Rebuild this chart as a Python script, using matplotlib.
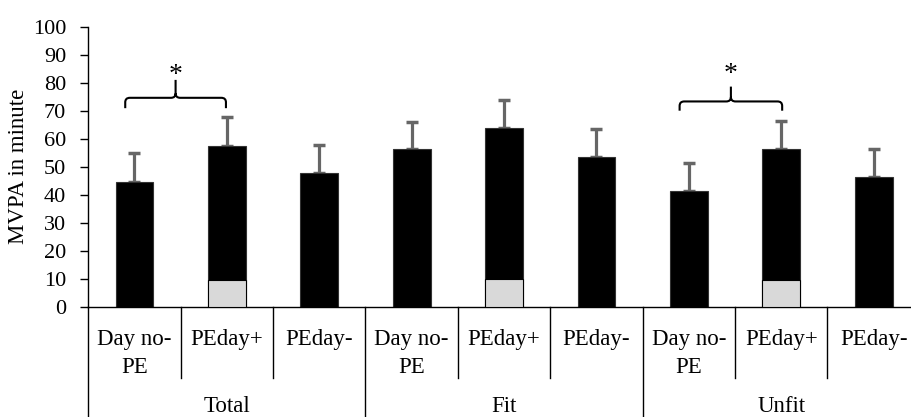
import matplotlib
matplotlib.use("Agg")
import matplotlib.pyplot as plt
from matplotlib.path import Path
from matplotlib.patches import PathPatch
from matplotlib.transforms import blended_transform_factory
import numpy as np

plt.rcParams['font.family'] = ['Liberation Serif', 'DejaVu Serif']

groups = ["Total", "Fit", "Unfit"]
days = ["Day no-\nPE", "PEday+", "PEday-"]
mvpa = [44.7, 57.5, 47.6, 56.2, 63.9, 53.6, 41.3, 56.2, 46.4]
sd = [10.1, 10.1, 10.0, 9.9, 9.9, 9.8, 10.1, 10.1, 10.0]
pe_part = [0, 9.6, 0, 0, 9.9, 0, 0, 9.5, 0]
yticks = list(range(0, 101, 10))

# braces with the significance star: (left x, right x, bar y, end y, tip y, star y)
braces = [(0.40, 1.49, 74.6, 70.9, 81.0, 78.1), (6.40, 7.51, 73.3, 70.0, 78.6, 78.4)]

fig = plt.figure(figsize=(9.11, 4.17), dpi=100)
ax = fig.add_axes([0.0969, 0.2645, 0.9128, 0.6715])

x = np.arange(len(mvpa)) + 0.5
ax.bar(x, mvpa, width=0.41, color="black", edgecolor="#333333", linewidth=0.8, zorder=2)
ax.bar(x, pe_part, width=0.41, color="#d9d9d9", edgecolor="black", linewidth=0.8, zorder=3)
ax.errorbar(x, mvpa, yerr=[np.zeros(len(sd)), sd], fmt="none", ecolor="#666666",
            elinewidth=2.3, capsize=4, capthick=2.5, zorder=1)

ax.set_xlim(0, 9)
ax.set_ylim(0, 100)
ax.set_yticks(yticks)
ax.set_xticks([])
ax.tick_params(axis="y", labelsize=16, length=6, width=1, pad=10)
ax.set_ylabel("MVPA in minute", fontsize=16.5, labelpad=3)
for s in ["top", "right"]:
    ax.spines[s].set_visible(False)
ax.spines["left"].set_linewidth(1)
ax.spines["bottom"].set_linewidth(1)

tr = blended_transform_factory(ax.transData, ax.transAxes)
for k in range(10):
    low = -0.42 if k % 3 == 0 else -0.255
    ax.plot([k, k], [0, low], color="black", lw=1, transform=tr, clip_on=False)

for i in range(len(mvpa)):
    ax.text(x[i], -0.08, days[i % 3], transform=tr, ha="center", va="top",
            fontsize=16.5, linespacing=1.45)
for g, name in enumerate(groups):
    ax.text(3 * g + 1.5, -0.355, name, transform=tr, ha="center", va="center", fontsize=16.5)

for x0, x1, yb, ye, yt, ys in braces:
    xm = (x0 + x1) / 2
    rx, ry = 0.05, 1.6
    verts = [(x0, ye), (x0, yb - ry), (x0, yb), (x0 + rx, yb), (xm - rx, yb), (xm, yb),
             (xm, yb + ry), (xm, yt),
             (xm, yb + ry), (xm, yb), (xm + rx, yb), (x1 - rx, yb), (x1, yb), (x1, yb - ry), (x1, ye)]
    codes = [Path.MOVETO, Path.LINETO, Path.CURVE3, Path.CURVE3, Path.LINETO, Path.CURVE3,
             Path.CURVE3, Path.LINETO,
             Path.MOVETO, Path.CURVE3, Path.CURVE3, Path.LINETO, Path.CURVE3, Path.CURVE3, Path.LINETO]
    ax.add_patch(PathPatch(Path(verts, codes), fill=False, lw=1.5, edgecolor="black", clip_on=False))
    ax.text(xm, ys, "*", ha="center", va="bottom", fontsize=20)

fig.savefig("out.png", dpi=100)
